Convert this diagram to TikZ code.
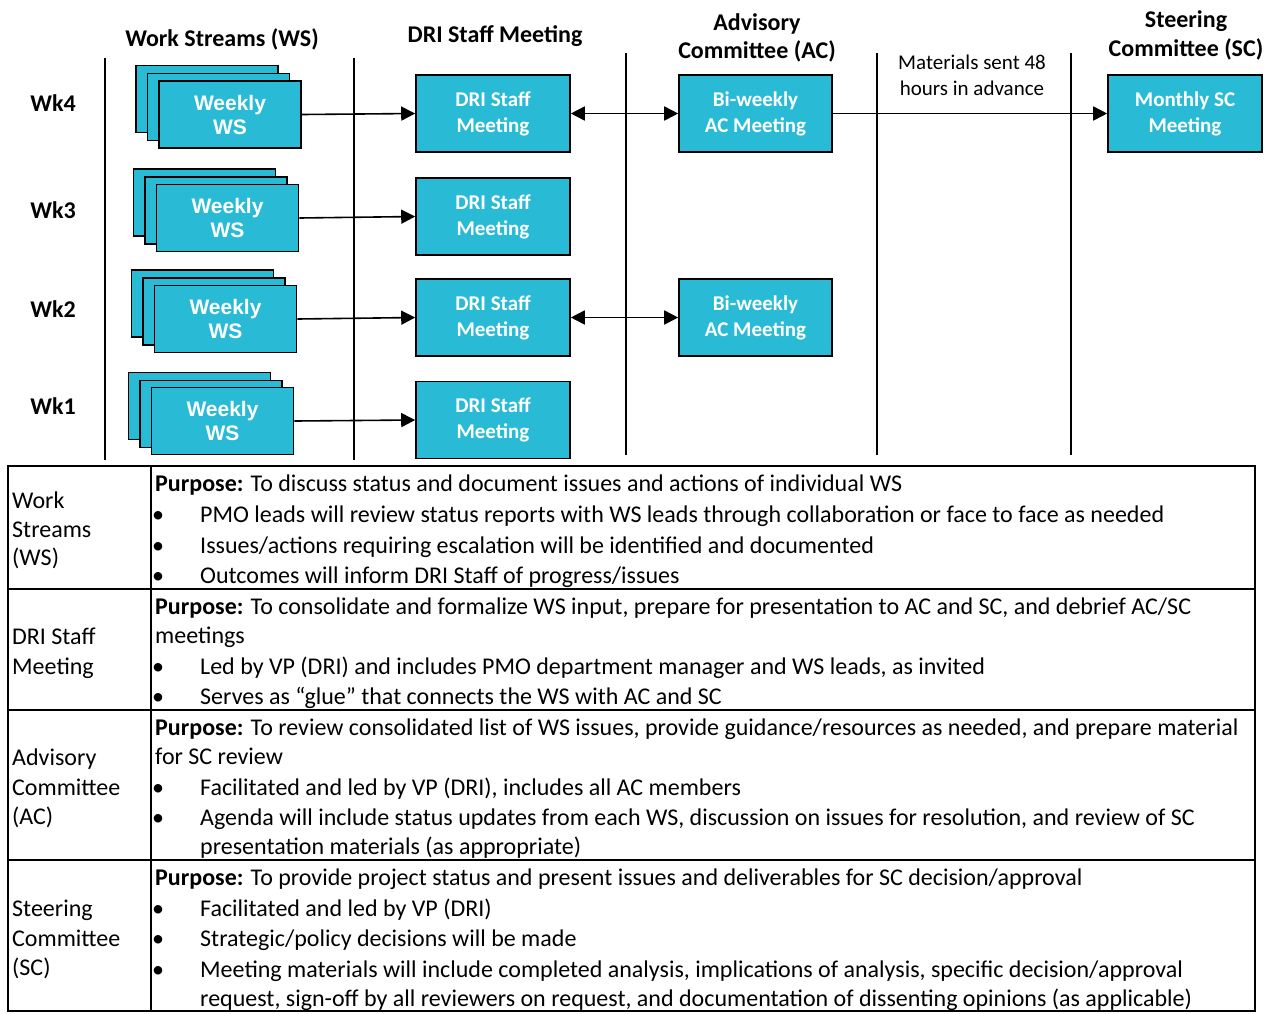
\documentclass[tikz,border=0pt]{standalone}
\usepackage{fontspec}
\setmainfont{Carlito}
\newfontfamily\arialf{Liberation Sans}
\usetikzlibrary{arrows.meta}
\definecolor{boxcyan}{RGB}{41,187,214}
\tikzset{
  mbox/.style={draw=black, line width=1.6pt, fill=boxcyan, minimum width=154pt, minimum height=77pt,
    inner sep=0pt, align=center, text=white, font=\bfseries\fontsize{21}{26}\selectfont},
  wsbox/.style={mbox, minimum width=142pt, minimum height=67pt, font=\arialf\bfseries\fontsize{21}{24}\selectfont},
  arr/.style={line width=1.6pt, -{Triangle[length=14pt,width=14pt]}},
  darr/.style={line width=1.6pt, {Triangle[length=14pt,width=14pt]}-{Triangle[length=14pt,width=14pt]}},
  sepline/.style={line width=1.8pt},
  hdr/.style={anchor=base, inner sep=0pt, font=\bfseries\fontsize{24}{28}\selectfont},
  note/.style={anchor=base, inner sep=0pt, font=\fontsize{21}{25}\selectfont},
  wk/.style={anchor=base, inner sep=0pt, font=\bfseries\fontsize{24}{28}\selectfont},
  txt/.style={anchor=base west, inner sep=0pt, font=\fontsize{24}{28}\selectfont},
  tline/.style={line width=1.8pt}
}
\begin{document}
\begin{tikzpicture}[x=1pt,y=-1pt]
\useasboundingbox (0,0) rectangle (1273,1013);
\fill[white] (0,0) rectangle (1273,1013);

% separators
\draw[sepline] (105,58) -- (105,460);
\draw[sepline] (354,58) -- (354,460);
\draw[sepline] (626,53) -- (626,455);
\draw[sepline] (877,53) -- (877,455);
\draw[sepline] (1071,53) -- (1071,455);

% headers
\node[hdr] (h1) at (222,46) {Work Streams (WS)};
\node[hdr] (h2) at (495,42) {DRI Staff Meeting};
\node[hdr] (h3a) at (757,30) {Advisory};
\node[hdr] (h3b) at (757,58) {Committee (AC)};
\node[hdr] (h4a) at (1186,27) {Steering};
\node[hdr] (h4b) at (1186,56) {Committee (SC)};
\node[note] (m1) at (972,69) {Materials sent 48};
\node[note] (m2) at (972,95) {hours in advance};

% week labels
\node[wk] (w4) at (53,111) {Wk4};
\node[wk] (w3) at (53,218) {Wk3};
\node[wk] (w2) at (53,317) {Wk2};
\node[wk] (w1) at (53,414) {Wk1};

% WS stacks
\node[wsbox] (ws4c) at (207,99) {};
\node[wsbox] (ws4b) at (218.5,107) {};
\node[wsbox] (ws4) at (230,114.5) {Weekly\\WS};
\node[wsbox] (ws3c) at (204.5,202.5) {};
\node[wsbox] (ws3b) at (216,210.5) {};
\node[wsbox] (ws3) at (227.5,218) {Weekly\\WS};
\node[wsbox] (ws2c) at (202.5,303.5) {};
\node[wsbox] (ws2b) at (214,311.5) {};
\node[wsbox] (ws2) at (225.5,319) {Weekly\\WS};
\node[wsbox] (ws1c) at (199.5,406) {};
\node[wsbox] (ws1b) at (211,414) {};
\node[wsbox] (ws1) at (222.5,421) {Weekly\\WS};

% DRI
\node[mbox] (d4) at (493,113.5) {DRI Staff\\Meeting};
\node[mbox] (d3) at (493,216.5) {DRI Staff\\Meeting};
\node[mbox] (d2) at (493,317.5) {DRI Staff\\Meeting};
\node[mbox] (d1) at (493,420) {DRI Staff\\Meeting};

% AC
\node[mbox, minimum width=153pt] (a4) at (755.5,113.5) {Bi-weekly\\AC Meeting};
\node[mbox, minimum width=153pt] (a2) at (755.5,317.5) {Bi-weekly\\AC Meeting};

% SC
\node[mbox] (s4) at (1185,113.5) {Monthly SC\\Meeting};

% arrows
\draw[arr] (ws4.east) -- (d4.west);
\draw[arr] (ws3.east) -- (d3.west);
\draw[arr] (ws2.east) -- (d2.west);
\draw[arr] (ws1.east) -- (d1.west);
\draw[darr] (d4.east) -- (a4.west);
\draw[darr] (d2.east) -- (a2.west);
\draw[arr] (a4.east) -- (s4.west);

% table
\draw[tline] (8,466) rectangle (1255,1011);
\draw[tline] (151,466) -- (151,1011);
\draw[tline] (8,589) -- (1255,589);
\draw[tline] (8,710) -- (1255,710);
\draw[tline] (8,860) -- (1255,860);

% WS row
\node[txt] (l1a) at (12,508) {Work};
\node[txt] (l1b) at (12,537) {Streams};
\node[txt] (l1c) at (12,565) {(WS)};
\node[txt] (p1) at (155,491) {\textbf{Purpose:} To discuss status and document issues and actions of individual WS};
\node[txt] (b1a) at (152,522) {•}; \node[txt] (t1a) at (200,522) {PMO leads will review status reports with WS leads through collaboration or face to face as needed};
\node[txt] (b1b) at (152,553) {•}; \node[txt] (t1b) at (200,553) {Issues/actions requiring escalation will be identified and documented};
\node[txt] (b1c) at (152,583) {•}; \node[txt] (t1c) at (200,583) {Outcomes will inform DRI Staff of progress/issues};

% DRI row
\node[txt] (l2a) at (12,644) {DRI Staff};
\node[txt] (l2b) at (12,674) {Meeting};
\node[txt] (p2) at (155,614) {\textbf{Purpose:} To consolidate and formalize WS input, prepare for presentation to AC and SC, and debrief AC/SC};
\node[txt] (p2b) at (155,643) {meetings};
\node[txt] (b2a) at (152,674) {•}; \node[txt] (t2a) at (200,674) {Led by VP (DRI) and includes PMO department manager and WS leads, as invited};
\node[txt] (b2b) at (152,704) {•}; \node[txt] (t2b) at (200,704) {Serves as “glue” that connects the WS with AC and SC};

% AC row
\node[txt] (l3a) at (12,765) {Advisory};
\node[txt] (l3b) at (12,795) {Committee};
\node[txt] (l3c) at (12,824) {(AC)};
\node[txt] (p3) at (155,735) {\textbf{Purpose:} To review consolidated list of WS issues, provide guidance/resources as needed, and prepare material};
\node[txt] (p3b) at (155,764) {for SC review};
\node[txt] (b3a) at (152,795) {•}; \node[txt] (t3a) at (200,795) {Facilitated and led by VP (DRI), includes all AC members};
\node[txt] (b3b) at (152,825) {•}; \node[txt] (t3b) at (200,825) {Agenda will include status updates from each WS, discussion on issues for resolution, and review of SC};
\node[txt] (t3c) at (200,854) {presentation materials (as appropriate)};

% SC row
\node[txt] (l4a) at (12,916) {Steering};
\node[txt] (l4b) at (12,946) {Committee};
\node[txt] (l4c) at (12,975) {(SC)};
\node[txt] (p4) at (155,885) {\textbf{Purpose:} To provide project status and present issues and deliverables for SC decision/approval};
\node[txt] (b4a) at (152,916) {•}; \node[txt] (t4a) at (200,916) {Facilitated and led by VP (DRI)};
\node[txt] (b4b) at (152,946) {•}; \node[txt] (t4b) at (200,946) {Strategic/policy decisions will be made};
\node[txt] (b4c) at (152,977) {•}; \node[txt] (t4c) at (200,977) {Meeting materials will include completed analysis, implications of analysis, specific decision/approval};
\node[txt] (t4d) at (200,1006) {request, sign-off by all reviewers on request, and documentation of dissenting opinions (as applicable)};
\end{tikzpicture}
\end{document}
